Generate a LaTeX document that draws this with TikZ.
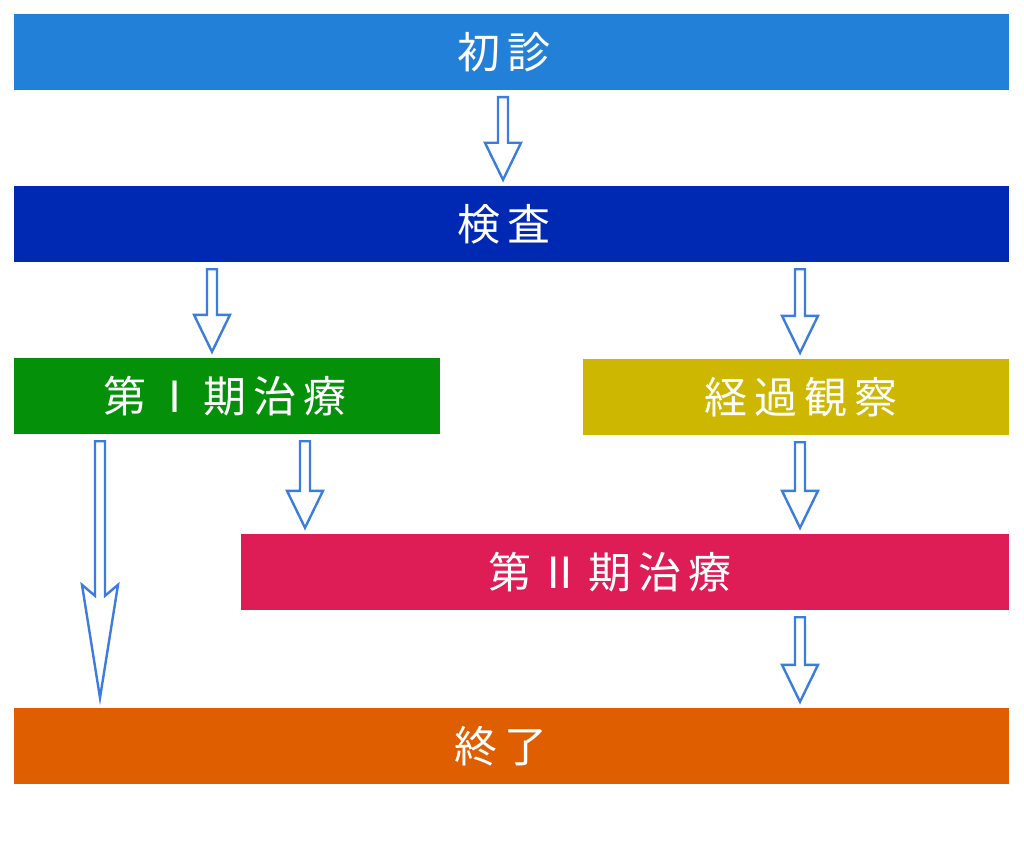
\documentclass[tikz,border=0pt]{standalone}
\usepackage{fontspec}
\newfontfamily\cjk{Noto Sans CJK JP}
\usetikzlibrary{calc}
\definecolor{cA}{HTML}{2280D8}
\definecolor{cB}{HTML}{0029B3}
\definecolor{cC}{HTML}{05900A}
\definecolor{cD}{HTML}{CDB700}
\definecolor{cE}{HTML}{DE1C55}
\definecolor{cF}{HTML}{DE5E00}
\definecolor{arrc}{HTML}{3B7DDD}
\newcommand\gp{\hspace{7pt}}
\newcommand\pad[1]{\rule{#1pt}{0pt}}
\newcommand\barrow[6]{% x, from, to, shaft half, head half, head length
  \draw[arr] let \p1=#2, \p2=#3 in
   (#1pt-#4pt,\y1-7pt) -- (#1pt+#4pt,\y1-7pt) -- (#1pt+#4pt,\y2+6pt+#6pt)
   -- (#1pt+#5pt,\y2+6pt+#6pt) -- (#1pt,\y2+6pt) -- (#1pt-#5pt,\y2+6pt+#6pt)
   -- (#1pt-#4pt,\y2+6pt+#6pt) -- cycle;}
\begin{document}
\begin{tikzpicture}[x=1pt,y=-1pt,
  box/.style={rectangle,inner sep=0pt,text=white,font=\cjk\fontsize{43}{48}\selectfont,minimum height=76pt},
  arr/.style={draw=arrc,fill=white,line width=2.4pt,line join=miter}]
\useasboundingbox (0,0) rectangle (1024,853);
\node[box,fill=cA,minimum width=995pt] (shoshin) at (511.5,52) {初\gp 診\pad{15}};
\node[box,fill=cB,minimum width=995pt] (kensa) at (511.5,224) {検\gp 査\pad{15}};
\node[box,fill=cC,minimum width=426pt] (chiryo1) at (227,396) {第\gp Ⅰ\gp 期\gp 治\gp 療\pad{4}};
\node[box,fill=cD,minimum width=426pt] (keika) at (796,397) {\pad{10}経\gp 過\gp 観\gp 察};
\node[box,fill=cE,minimum width=768pt] (chiryo2) at (625,572) {第\gp Ⅱ\gp 期\gp 治\gp 療\pad{30}};
\node[box,fill=cF,minimum width=995pt] (shuryo) at (511.5,746) {終\gp 了\pad{21}};
\barrow{503}{(shoshin.south)}{(kensa.north)}{5}{18}{37}
\barrow{212}{(kensa.south)}{(chiryo1.north)}{5}{18}{37}
\barrow{800}{(kensa.south)}{(keika.north)}{5}{18}{37}
\barrow{305}{(chiryo1.south)}{(chiryo2.north)}{5}{18}{37}
\barrow{800}{(keika.south)}{(chiryo2.north)}{5}{18}{37}
\barrow{800}{(chiryo2.south)}{(shuryo.north)}{5}{18}{37}
\draw[arr] let \p1=(chiryo1.south), \p2=(shuryo.north) in
   (95pt,\y1-7pt) -- (105pt,\y1-7pt) -- (105pt,\y2+112pt) -- (118pt,\y2+123pt)
   -- (100pt,\y2+10pt) -- (82pt,\y2+123pt) -- (95pt,\y2+112pt) -- cycle;
\end{tikzpicture}
\end{document}
